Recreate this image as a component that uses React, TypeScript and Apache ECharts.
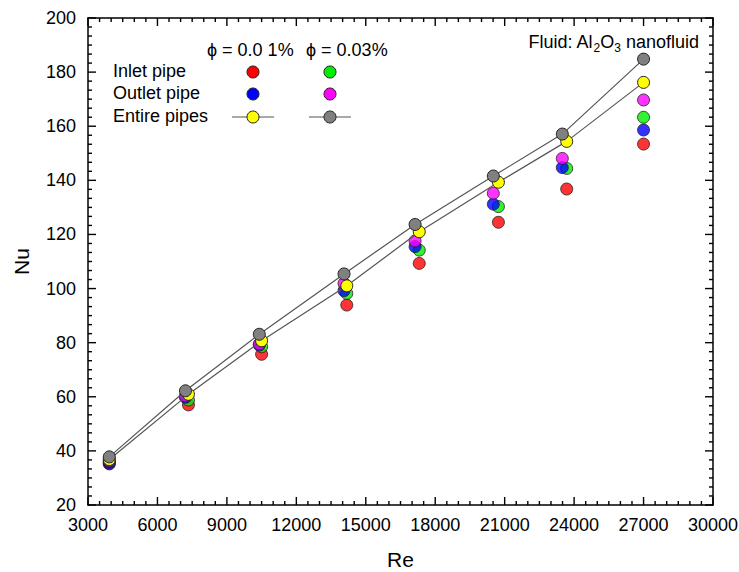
import React, { useEffect, useRef } from "react";
import * as echarts from "echarts";

const reA = [3920, 7210, 10400, 14060, 17130, 20510, 23490, 27000];
const reB = [3920, 7340, 10500, 14180, 17310, 20730, 23680, 27000];

const inlet001 = [35.2, 57.0, 75.7, 93.9, 109.3, 124.5, 136.8, 153.4];
const inlet003 = [36.0, 58.8, 78.5, 98.2, 114.2, 130.3, 144.4, 163.3];
const outlet001 = [35.4, 59.8, 79.1, 99.2, 115.5, 131.2, 144.7, 158.6];
const outlet003 = [36.3, 60.3, 79.5, 101.9, 117.6, 135.2, 148.1, 169.7];
const entire001 = [36.8, 60.9, 80.7, 101.0, 121.0, 139.3, 154.4, 176.2];
const entire003 = [37.8, 62.2, 83.1, 105.4, 123.7, 141.6, 157.1, 184.8];

const xMin = 3000;
const xMax = 30000;
const xStep = 3000;
const yMin = 20;
const yMax = 200;
const yStep = 20;
const minorSplit = 6;

const rowLabels = ["Inlet pipe", "Outlet pipe", "Entire pipes"];
const colLabels = ["\u03D5 = 0.0 1%", "\u03D5 = 0.03%"];

const FONT = "'Liberation Sans', Arial, sans-serif";

const pair = (xs: number[], ys: number[]) => ys.map((y, i) => [xs[i], y]);

export default function App() {
  const ref = useRef<HTMLDivElement>(null);
  useEffect(() => {
    if (!ref.current) return;
    const chart = echarts.init(ref.current, undefined, { renderer: "svg" });
    const markerBorder = { borderColor: "#222", borderWidth: 1 };
    const scatter = (name: string, xs: number[], ys: number[], color: string) => ({
      name,
      type: "scatter",
      data: pair(xs, ys),
      symbol: "circle",
      symbolSize: 12,
      itemStyle: { color, ...markerBorder },
    });
    const line = (name: string, xs: number[], ys: number[], color: string) => ({
      name,
      type: "line",
      data: pair(xs, ys),
      symbol: "circle",
      symbolSize: 12,
      showSymbol: true,
      lineStyle: { color: "#555", width: 1.2 },
      itemStyle: { color, ...markerBorder },
    });
    const axisBase = {
      axisLine: { show: true, onZero: false, lineStyle: { color: "#000", width: 1.5 } },
      axisTick: { show: false },
      minorTick: { show: false },
      splitLine: { show: false },
      minorSplitLine: { show: false },
    };

    chart.setOption({
      animation: false,
      backgroundColor: "#fff",
      textStyle: { fontFamily: FONT },
      grid: { left: 88, right: 26, top: 18, bottom: 67, outerBoundsMode: "none" },
      xAxis: [
        {
          type: "value",
          min: xMin,
          max: xMax,
          interval: xStep,
          position: "bottom",
          name: "Re",
          nameLocation: "middle",
          nameGap: 44,
          nameTextStyle: { fontSize: 21, color: "#000", fontFamily: FONT },
          axisLabel: { fontSize: 18, color: "#000", margin: 11, fontFamily: FONT, formatter: (v: number) => String(v) },
          ...axisBase,
        },
        {
          type: "value",
          min: xMin,
          max: xMax,
          interval: xStep,
          position: "top",
          axisLabel: { show: false },
          ...axisBase,
        },
      ],
      yAxis: [
        {
          type: "value",
          min: yMin,
          max: yMax,
          interval: yStep,
          position: "left",
          name: "Nu",
          nameLocation: "middle",
          nameGap: 56,
          nameTextStyle: { fontSize: 21, color: "#000", fontFamily: FONT },
          axisLabel: { fontSize: 18, color: "#000", margin: 12, fontFamily: FONT, formatter: (v: number) => String(v) },
          ...axisBase,
        },
        {
          type: "value",
          min: yMin,
          max: yMax,
          interval: yStep,
          position: "right",
          axisLabel: { show: false },
          ...axisBase,
        },
      ],
      series: [
        scatter("Inlet 0.01", reB, inlet001, "#ff0000"),
        scatter("Inlet 0.03", reB, inlet003, "#00ee00"),
        scatter("Outlet 0.01", reA, outlet001, "#0000ff"),
        scatter("Outlet 0.03", reA, outlet003, "#ff00ff"),
        line("Entire 0.01", reB, entire001, "#ffff00"),
        line("Entire 0.03", reA, entire003, "#808080"),
      ],
    });

    // pixel mapping through the chart's own converter, with the grid's rect as a fallback
    const W = chart.getWidth();
    const H = chart.getHeight();
    const gl = 88;
    const gr = W - 26;
    const gt = 18;
    const gb = H - 67;
    const px = (x: number, y: number): number[] => {
      let p: any = null;
      try {
        p = chart.convertToPixel({ xAxisIndex: 0, yAxisIndex: 0 }, [x, y]);
      } catch (e) {
        p = null;
      }
      if (!p || !isFinite(p[0]) || !isFinite(p[1])) {
        p = [
          gl + ((x - xMin) / (xMax - xMin)) * (gr - gl),
          gb - ((y - yMin) / (yMax - yMin)) * (gb - gt),
        ];
      }
      return p;
    };

    const graphics: any[] = [];
    const tickStyle = { stroke: "#000", lineWidth: 1.4, fill: null };
    const xSub = xStep / minorSplit;
    const ySub = yStep / minorSplit;
    const nx = Math.round((xMax - xMin) / xSub);
    const ticks: number[][] = [];
    for (let i = 0; i <= nx; i++) {
      const v = xMin + i * xSub;
      const len = i % minorSplit === 0 ? 8 : 4;
      const pb = px(v, yMin);
      const pt = px(v, yMax);
      ticks.push([pb[0], pb[1], pb[0], pb[1] - len]);
      ticks.push([pt[0], pt[1], pt[0], pt[1] + len]);
    }
    const ny = Math.round((yMax - yMin) / ySub);
    for (let i = 0; i <= ny; i++) {
      const v = yMin + i * ySub;
      const len = i % minorSplit === 0 ? 8 : 4;
      const pl = px(xMin, v);
      const pr = px(xMax, v);
      ticks.push([pl[0], pl[1], pl[0] + len, pl[1]]);
      ticks.push([pr[0], pr[1], pr[0] - len, pr[1]]);
    }
    ticks.forEach((t) => {
      graphics.push({
        type: "polyline",
        silent: true,
        shape: { points: [[t[0], t[1]], [t[2], t[3]]] },
        style: tickStyle,
      });
    });

    const legendX = [253, 330];
    const rowY = [72, 94, 117];
    const colColors = [
      ["#ff0000", "#00ee00"],
      ["#0000ff", "#ff00ff"],
      ["#ffff00", "#808080"],
    ];
    colLabels.forEach((t, i) => {
      graphics.push({
        type: "text",
        left: [207, 306][i],
        top: 41,
        style: { text: t, font: `18px ${FONT}`, fill: "#000" },
      });
    });
    rowLabels.forEach((t, r) => {
      graphics.push({
        type: "text",
        left: 113,
        top: rowY[r] - 10,
        style: { text: t, font: `18px ${FONT}`, fill: "#000" },
      });
      legendX.forEach((cx, c) => {
        if (r === 2) {
          graphics.push({
            type: "line",
            shape: { x1: cx - 21, y1: rowY[r], x2: cx + 21, y2: rowY[r] },
            style: { stroke: "#555", lineWidth: 1.2 },
          });
        }
        graphics.push({
          type: "circle",
          shape: { cx, cy: rowY[r], r: 6 },
          style: { fill: colColors[r][c], stroke: "#222", lineWidth: 1 },
        });
      });
    });
    graphics.push({
      type: "text",
      right: 40,
      top: 30,
      style: {
        text: "Fluid: Al{sub|2}O{sub|3} nanofluid",
        font: `18px ${FONT}`,
        fill: "#000",
        rich: {
          sub: { fontSize: 12, fontFamily: FONT, lineHeight: 12, padding: [12, 0, 0, 0] },
        },
      },
    });
    chart.setOption({ graphic: graphics });

    return () => chart.dispose();
  }, []);
  return (
    <div
      ref={ref}
      style={{ position: "absolute", left: 0, top: 0, width: 739, height: 572 }}
    />
  );
}
